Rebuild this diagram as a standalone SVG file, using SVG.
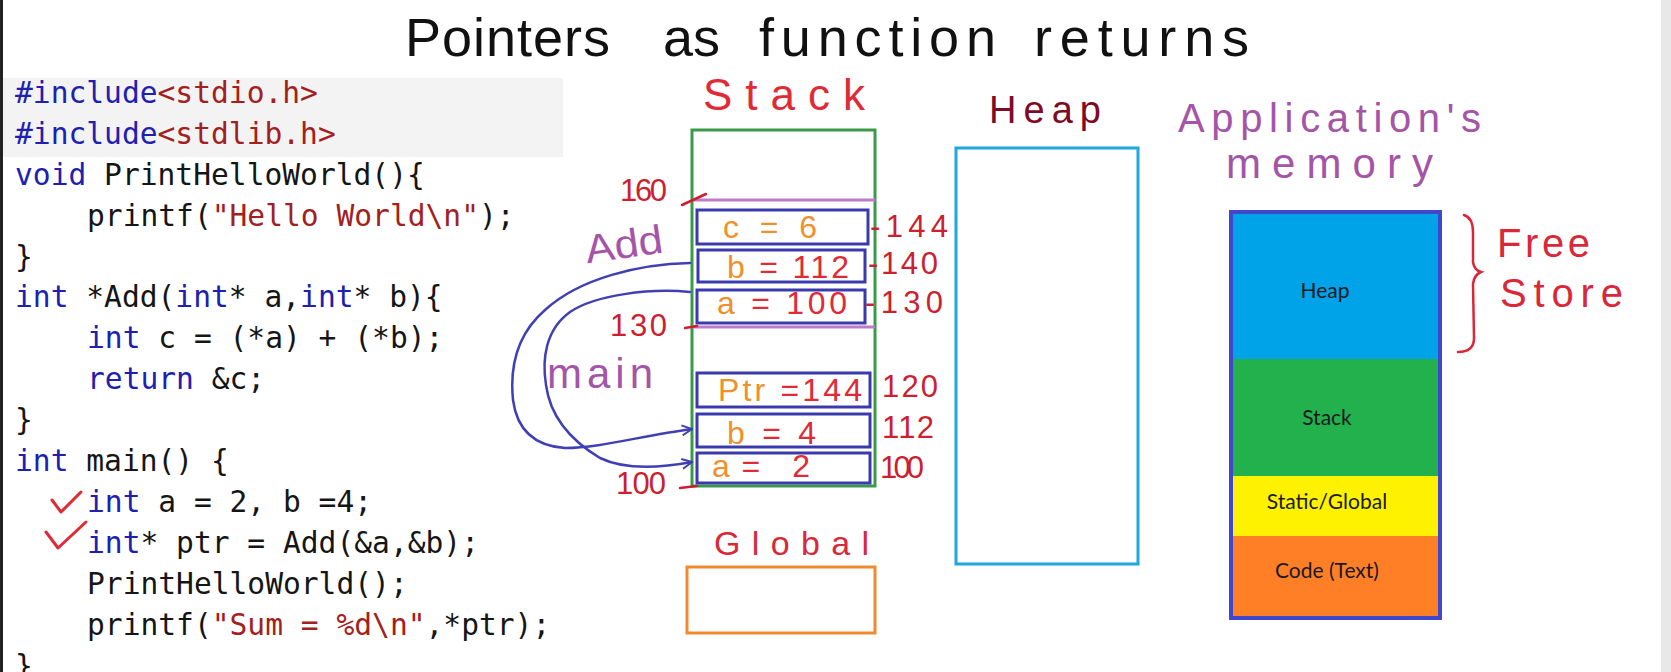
<svg xmlns="http://www.w3.org/2000/svg" width="1671" height="672" viewBox="0 0 1671 672">
<style>
.code{font-family:"DejaVu Sans Mono","Liberation Mono",monospace;font-size:29.6px;fill:#151515;white-space:pre}
.kw{fill:#2020b0}
.str{fill:#a32020}
.hand{font-family:"Liberation Sans","DejaVu Sans",sans-serif}
.red{fill:#e02a36}
.num{fill:#cc1f30;font-family:"Liberation Sans",sans-serif;font-size:31px}
.org{fill:#f0902a}
.purple{fill:#a455a8}
.var{fill:none;stroke:#3a3aae;stroke-width:3}
.seg{font-family:"Lato","Liberation Sans",sans-serif;font-size:21px;fill:#1a1a22;text-anchor:middle}
.tick{stroke:#cc1f30;stroke-width:2.5;fill:none;stroke-linecap:round}
.arrow{fill:none;stroke:#4040b4;stroke-width:2.5;stroke-linecap:round}
</style>
<defs>
<marker id="head" viewBox="0 0 12 12" refX="11" refY="6" markerWidth="12" markerHeight="12" markerUnits="userSpaceOnUse" orient="auto">
<path d="M1,1 L11,6 L1,11" fill="none" stroke="#4040b4" stroke-width="2"/>
</marker>
</defs>
<rect width="1671" height="672" fill="#ffffff"/>
<rect x="0" y="0" width="3" height="672" fill="#222"/>
<rect x="1661" y="0" width="10" height="672" fill="#e8e8e8"/>

<g id="title">
<text class="hand" font-size="54" fill="#111" y="56"><tspan x="405" textLength="205" lengthAdjust="spacing">Pointers</tspan><tspan x="663" textLength="57" lengthAdjust="spacing">as</tspan><tspan x="759" textLength="237" lengthAdjust="spacing">function</tspan><tspan x="1034" textLength="215" lengthAdjust="spacing">returns</tspan></text>
</g>

<g id="code">
<rect x="3" y="78" width="560" height="79" fill="#f3f3f3"/>
<text class="code" x="15" y="103"><tspan class="kw">#include</tspan><tspan class="str">&lt;stdio.h&gt;</tspan></text>
<text class="code" x="15" y="144"><tspan class="kw">#include</tspan><tspan class="str">&lt;stdlib.h&gt;</tspan></text>
<text class="code" x="15" y="185"><tspan class="kw">void</tspan> PrintHelloWorld(){</text>
<text class="code" x="87" y="226">printf(<tspan class="str">"Hello World\n"</tspan>);</text>
<text class="code" x="15" y="267">}</text>
<text class="code" x="15" y="307"><tspan class="kw">int</tspan> *Add(<tspan class="kw">int</tspan>* a,<tspan class="kw">int</tspan>* b){</text>
<text class="code" x="87" y="348"><tspan class="kw">int</tspan> c = (*a) + (*b);</text>
<text class="code" x="87" y="389"><tspan class="kw">return</tspan> &amp;c;</text>
<text class="code" x="15" y="430">}</text>
<text class="code" x="15" y="471"><tspan class="kw">int</tspan> main() {</text>
<text class="code" x="87" y="512"><tspan class="kw">int</tspan> a = 2, b =4;</text>
<text class="code" x="87" y="553"><tspan class="kw">int</tspan>* ptr = Add(&amp;a,&amp;b);</text>
<text class="code" x="87" y="594">PrintHelloWorld();</text>
<text class="code" x="87" y="635">printf(<tspan class="str">"Sum = %d\n"</tspan>,*ptr);</text>
<text class="code" x="15" y="676">}</text>
<path d="M52,500 L61,512 L81,492" fill="none" stroke="#e02a36" stroke-width="3" stroke-linecap="round" stroke-linejoin="round"/>
<path d="M46,532 L58,548 L86,522" fill="none" stroke="#e02a36" stroke-width="3" stroke-linecap="round" stroke-linejoin="round"/>
</g>

<g id="stack">
<text class="hand red" font-size="44" x="703" y="110" textLength="162" lengthAdjust="spacing">Stack</text>
<rect x="692" y="130" width="183" height="356" fill="none" stroke="#3a9a4a" stroke-width="3"/>
<line x1="692" y1="200" x2="875" y2="200" stroke="#c07ac8" stroke-width="3"/>
<line x1="692" y1="327" x2="875" y2="327" stroke="#c07ac8" stroke-width="3"/>
<text class="hand purple" font-size="40" x="585" y="258" textLength="78" lengthAdjust="spacingAndGlyphs" transform="rotate(-8 624 245)">Add</text>
<text class="hand purple" font-size="42" x="547" y="388" textLength="106" lengthAdjust="spacing">main</text>
<text class="num" x="620" y="201" textLength="47" lengthAdjust="spacing">160</text>
<path class="tick" d="M682,205 L706,194"/>
<text class="num" x="610" y="336" textLength="57" lengthAdjust="spacing">130</text>
<path class="tick" d="M685,328 L697,326"/>
<text class="num" x="616" y="494" textLength="50" lengthAdjust="spacing">100</text>
<path class="tick" d="M680,488 L697,486"/>
</g>

<g id="var-c">
<rect class="var" x="697" y="210" width="171" height="34"/>
<text class="hand org" font-size="32" x="723" y="238" textLength="94" lengthAdjust="spacing">c = 6</text>
<text class="num" x="870" y="237" textLength="78" lengthAdjust="spacing">-144</text>
</g>
<g id="var-b-add">
<rect class="var" x="698" y="250" width="167" height="32"/>
<text class="hand" font-size="32" x="727" y="278" textLength="122" lengthAdjust="spacing"><tspan class="org">b</tspan><tspan class="red"> = 112</tspan></text>
<text class="num" x="868" y="274" textLength="70" lengthAdjust="spacing">-140</text>
</g>
<g id="var-a-add">
<rect class="var" x="697" y="290" width="168" height="33"/>
<text class="hand" font-size="32" x="717" y="314" textLength="130" lengthAdjust="spacing"><tspan class="org">a</tspan><tspan class="red"> = 100</tspan></text>
<text class="num" x="865" y="313" textLength="78" lengthAdjust="spacing">-130</text>
</g>
<g id="var-ptr">
<rect class="var" x="697" y="373" width="173" height="34"/>
<text class="hand" font-size="32" x="718" y="401" textLength="144" lengthAdjust="spacing"><tspan class="org">Ptr</tspan><tspan class="red"> =144</tspan></text>
<text class="num" x="882" y="397" textLength="56" lengthAdjust="spacing">120</text>
</g>
<g id="var-b-main">
<rect class="var" x="697" y="414" width="173" height="33"/>
<text class="hand" font-size="32" x="727" y="444" textLength="89" lengthAdjust="spacing"><tspan class="org">b</tspan><tspan class="red"> = 4</tspan></text>
<text class="num" x="882" y="438" textLength="52" lengthAdjust="spacing">112</text>
</g>
<g id="var-a-main">
<rect class="var" x="697" y="453" width="173" height="30"/>
<text class="hand" font-size="32" x="712" y="477" textLength="98" lengthAdjust="spacing"><tspan class="org">a</tspan><tspan class="red">= 2</tspan></text>
<text class="num" x="880" y="478" textLength="44" lengthAdjust="spacing">100</text>
</g>

<g id="global">
<text class="hand" font-size="34" fill="#d8283a" x="714" y="555" textLength="155" lengthAdjust="spacing">Global</text>
<rect x="687" y="567" width="188" height="66" fill="none" stroke="#f08a30" stroke-width="3"/>
</g>

<g id="heap">
<text class="hand" font-size="38" fill="#800a24" x="989" y="123" textLength="112" lengthAdjust="spacing">Heap</text>
<rect x="956" y="148" width="182" height="416" fill="none" stroke="#1ea8dc" stroke-width="3"/>
</g>

<g id="app-memory">
<text class="hand purple" font-size="40" x="1178" y="132" textLength="303" lengthAdjust="spacing">Application's</text>
<text class="hand purple" font-size="42" x="1226" y="178" textLength="207" lengthAdjust="spacing">memory</text>
<rect x="1229" y="210" width="213" height="410" fill="#3f48cc"/>
<rect x="1233" y="214" width="205" height="145" fill="#00a2e8"/>
<rect x="1233" y="359" width="205" height="117" fill="#22b14c"/>
<rect x="1233" y="476" width="205" height="60" fill="#fff200"/>
<rect x="1233" y="536" width="205" height="80" fill="#ff7f27"/>
<text class="seg" x="1325" y="298">Heap</text>
<text class="seg" x="1327" y="425">Stack</text>
<text class="seg" x="1327" y="509">Static/Global</text>
<text class="seg" x="1327" y="578">Code (Text)</text>
</g>

<g id="free-store">
<path d="M1464,215 Q1473,218 1473,232 L1473,262 Q1474,270 1481,272 Q1474,275 1473,284 L1474,338 Q1474,352 1458,352" fill="none" stroke="#d8283a" stroke-width="2.5" stroke-linecap="round"/>
<text class="hand" font-size="40" fill="#d8283a" x="1497" y="257" textLength="93" lengthAdjust="spacing">Free</text>
<text class="hand" font-size="40" fill="#d8283a" x="1500" y="307" textLength="123" lengthAdjust="spacing">Store</text>
</g>

<g id="connectors">
<path class="arrow" marker-end="url(#head)" d="M690,263 C640,264 580,278 545,310 C515,336 510,370 513,400 C517,430 535,446 565,448 C600,448 640,436 692,429"/>
<path class="arrow" marker-end="url(#head)" d="M690,292 C650,288 595,295 570,312 C545,330 542,360 546,385 C550,415 570,440 600,458 C625,470 660,468 692,462"/>
</g>
</svg>
